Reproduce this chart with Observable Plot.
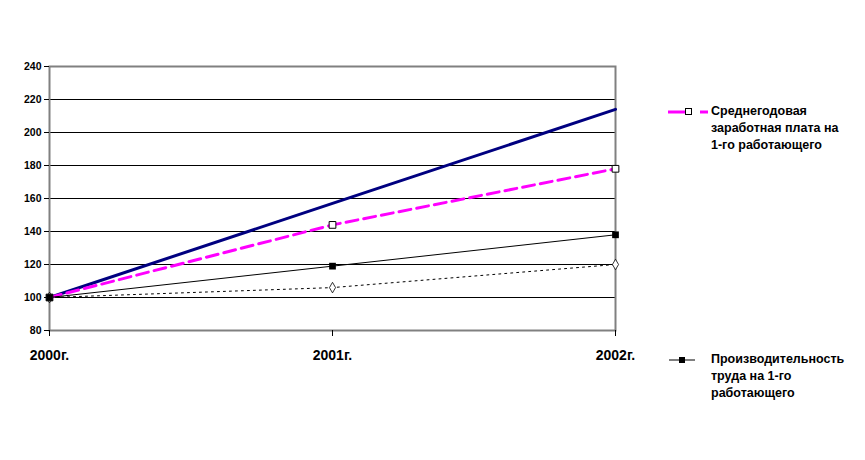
<!DOCTYPE html>
<html><head><meta charset="utf-8">
<script src="https://cdn.jsdelivr.net/npm/d3@7"></script>
<script src="https://cdn.jsdelivr.net/npm/@observablehq/plot@0.6"></script>
<style>
body{margin:0;background:#fff;font-family:Arial,"Liberation Sans",sans-serif;}
#wrap{position:relative;width:865px;height:460px;}
.leg{position:absolute;font:bold 12.5px Arial,"Liberation Sans",sans-serif;line-height:17px;color:#000;}
.sw{position:absolute;}
</style></head><body>
<div id="wrap"></div>
<script>
const years = ["2000г.", "2001г.", "2002г."];
const navySeries = [100, 157, 214];
const wageSeries = [100, 144, 178];
const productivitySeries = [100, 119, 138];
const dottedSeries = [100, 106, 120];
const yTicks = [80, 100, 120, 140, 160, 180, 200, 220, 240];
const wageLabel = "Среднегодовая заработная плата на 1-го работающего";
const prodLabel = "Производительность труда на 1-го работающего";

const rows = (vals) => years.map((y, i) => ({year: y, v: vals[i]}));
const navy = rows(navySeries), wage = rows(wageSeries), prod = rows(productivitySeries), dot = rows(dottedSeries);

const chart = Plot.plot({
  width: 865, height: 460,
  marginLeft: 49, marginRight: 250, marginTop: 66, marginBottom: 130,
  style: {fontFamily: "Arial, 'Liberation Sans', sans-serif", background: "#fff"},
  x: {type: "point", domain: years, padding: 0, axis: null, label: null},
  y: {domain: [80, 240], axis: null, label: null},
  marks: [
    Plot.gridY(yTicks.slice(1, -1), {stroke: "#000", strokeOpacity: 1, strokeWidth: 1}),
    Plot.frame({stroke: "#808080", strokeWidth: 2}),
    Plot.axisY(yTicks, {label: null, tickSize: 5, tickPadding: 3, fontSize: 10.5, fontWeight: "bold", stroke: "#000", fill: "#000"}),
    Plot.axisX(years, {label: null, tickSize: 6, tickPadding: 14, fontSize: 14, fontWeight: "bold", fill: "#000", stroke: "#000"}),
    Plot.line(navy, {x: "year", y: "v", stroke: "#000080", strokeWidth: 3}),
    Plot.line(wage, {x: "year", y: "v", stroke: "#FF00FF", strokeWidth: 3, strokeDasharray: "12,6"}),
    Plot.line(prod, {x: "year", y: "v", stroke: "#000", strokeWidth: 1}),
    Plot.line(dot, {x: "year", y: "v", stroke: "#000", strokeWidth: 1, strokeDasharray: "2,4"}),
    Plot.dot(dot, {x: "year", y: "v", symbol: "diamond", r: 3.2, stroke: "#000", fill: "#fff", strokeWidth: 0.8}),
    Plot.dot(wage, {x: "year", y: "v", symbol: "square", r: 3.8, stroke: "#000", fill: "#fff", strokeWidth: 1}),
    Plot.dot(prod, {x: "year", y: "v", symbol: "square", r: 3.8, fill: "#000", stroke: "none"})
  ]
});
const wrap = document.getElementById("wrap");
wrap.appendChild(chart);

function addLegend(top, label, svgInner) {
  const s = document.createElementNS("http://www.w3.org/2000/svg", "svg");
  s.setAttribute("width", 44); s.setAttribute("height", 12);
  s.setAttribute("class", "sw");
  s.style.left = "666px"; s.style.top = (top - 6) + "px";
  s.innerHTML = svgInner;
  wrap.appendChild(s);
  const d = document.createElement("div");
  d.className = "leg";
  d.style.left = "711px"; d.style.top = (top - 9) + "px"; d.style.width = "142px";
  d.textContent = label;
  wrap.appendChild(d);
}
addLegend(112, wageLabel,
  '<line x1="2" y1="6" x2="20" y2="6" stroke="#FF00FF" stroke-width="3"/>' +
  '<line x1="34" y1="6" x2="42" y2="6" stroke="#FF00FF" stroke-width="3"/>' +
  '<rect x="19.5" y="2.5" width="6" height="6" fill="#fff" stroke="#000" stroke-width="1"/>');
addLegend(360, prodLabel,
  '<line x1="3" y1="6" x2="29" y2="6" stroke="#000" stroke-width="1"/>' +
  '<rect x="13" y="3" width="6" height="6" fill="#000"/>');
</script>
</body></html>
